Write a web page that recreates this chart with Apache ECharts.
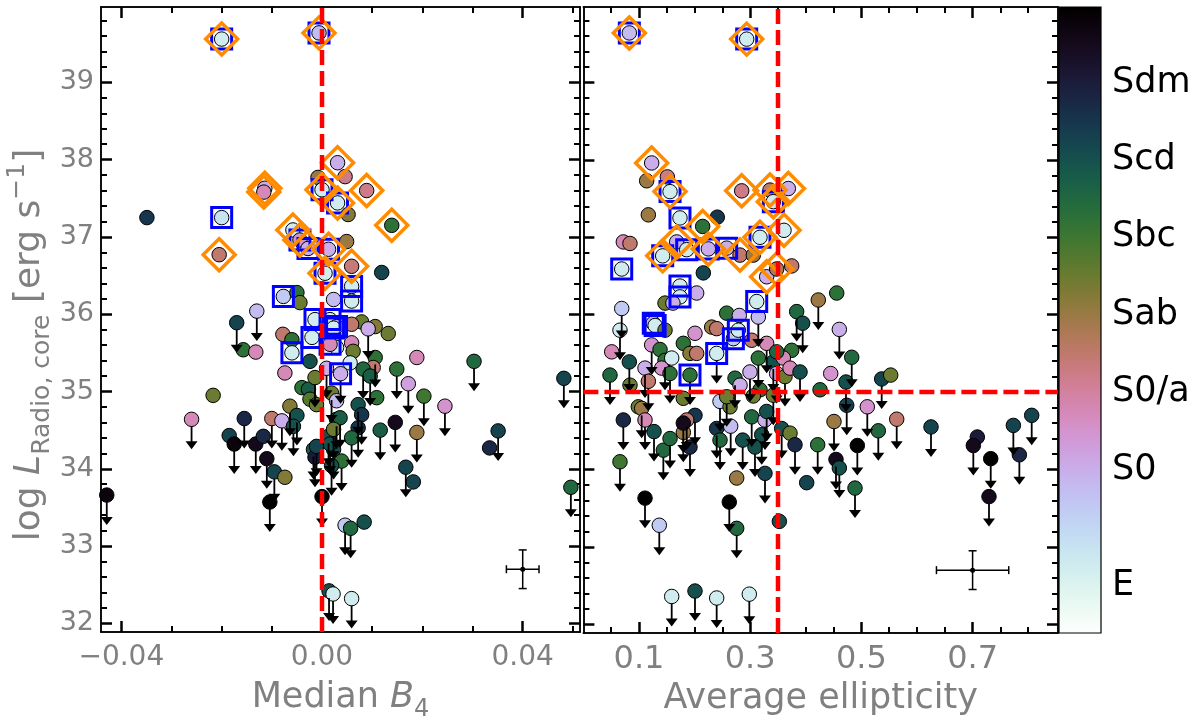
<!DOCTYPE html>
<html><head><meta charset="utf-8">
<script src="https://cdn.jsdelivr.net/npm/echarts@6/dist/echarts.min.js"></script>
<style>html,body{margin:0;padding:0;background:#fff}#c{width:1200px;height:727px}</style>
</head><body><div id="c"></div>
<script>
// ---------- Left panel: Median B4 ----------
const b4X = [
-0.0200,-0.0006,0.0031,-0.0114,-0.0116,-0.0349,-0.0200,-0.0205,0.0046,-0.0008,
0.0000,0.0031,0.0089,0.0052,0.0139,-0.0058,-0.0044,0.0049,0.0013,0.0059,
0.0119,0.0006,0.0059,0.0059,-0.0077,-0.0050,-0.0044,0.0023,-0.0130,-0.0014,
0.0016,-0.0020,0.0029,0.0079,0.0106,0.0132,0.0092,-0.0078,-0.0060,0.0023,
0.0059,0.0059,0.0029,0.0062,0.0106,0.0102,0.0082,0.0096,0.0109,0.0149,
0.0189,0.0172,0.0203,0.0245,0.0303,0.0482,0.0116,0.0146,0.0189,0.0351,
0.0334,0.0167,0.0182,0.0496,0.0072,0.0079,0.0072,0.0059,0.0039,0.0023,
0.0029,0.0046,0.0057,0.0084,0.0059,0.0014,0.0022,-0.0170,-0.0157,-0.0132,
-0.0060,-0.0074,-0.0024,-0.0040,-0.0027,-0.0024,-0.0011,-0.0217,-0.0260,-0.0155,
-0.0185,-0.0175,-0.0132,-0.0117,-0.0100,-0.0080,-0.0064,-0.0050,-0.0057,-0.0110,
-0.0095,-0.0074,-0.0104,-0.0429,0.0000,-0.0017,-0.0014,0.0019,0.0013,0.0016,
0.0056,0.0009,0.0037,-0.0014,0.0019,0.0029,0.0036,0.0023,0.0016,-0.0011,
-0.0028];
const b4LogL = [
39.56,39.64,37.96,37.63,37.58,37.25,37.25,36.77,37.78,37.77,
37.61,37.44,37.60,37.29,37.15,37.09,36.96,36.94,36.84,36.62,
36.54,36.53,36.36,36.17,36.23,36.28,36.15,36.19,36.04,35.93,
35.93,35.70,35.84,35.90,35.84,35.75,35.81,35.74,35.67,35.82,
35.87,35.63,35.57,35.52,35.44,35.31,35.29,35.20,34.92,35.29,
35.44,35.10,34.94,34.81,35.39,35.17,34.50,34.60,34.47,34.49,
34.27,34.02,33.83,33.76,34.83,34.70,34.53,34.40,34.10,34.25,
34.64,33.27,33.23,33.31,32.32,32.42,32.38,35.89,35.54,35.51,
35.50,35.24,35.39,35.05,35.03,34.90,34.83,34.95,34.64,34.65,
34.43,34.32,34.32,34.42,34.65,34.62,34.81,34.69,34.55,34.13,
33.96,33.89,33.57,33.66,33.64,34.25,34.15,34.04,34.42,35.61,
35.37,35.30,35.23,35.18,34.98,34.88,34.66,34.51,34.32,34.29,
36.85];
const b4Type = [
-4.5,-2.5,-2,-2,-0.5,7,-4,1,0.5,2,
-4.5,-4.5,0.5,2.5,4.5,-4.5,-1,2,-2,0.8,
6.5,-4.5,-4.5,-4.5,-3,4.5,3,-2.5,-2.5,-4.5,
-4.5,-4.5,-2,3,2.5,3,-2,1,4.5,-4.5,
1,-0.5,-4.5,3,4.5,1,5,5.5,4.5,4.5,
-0.5,-1.5,4,-1,5,6.5,5.5,9,2,6.5,
7.5,6.5,6.5,5,6,7,7,5,4.5,6,
6,-3,5,6,-4.5,6,-4.5,6.5,4.5,-0.5,
-4.5,-0.5,6,4.5,5.5,3.5,3,3,-0.5,7.5,
6.5,9.5,9,7.5,1,-2,2.5,6,6,9,
6.5,2.5,10,9.5,10,5.5,8,6,6,-0.5,
-4.5,-2,-2,3,3,-2.5,5.5,3,6,6.5,
-2];
const b4Limit = [
0,0,0,0,0,0,0,0,0,0,
0,0,0,0,0,0,0,0,0,0,
0,0,0,0,0,0,0,0,1,0,
0,0,0,0,0,0,1,0,0,0,
0,0,0,0,1,0,1,1,0,1,
0,1,1,1,1,1,1,1,1,1,
0,1,0,1,1,1,1,1,1,1,
1,1,1,0,1,1,1,1,0,0,
0,0,0,0,0,0,0,0,1,1,
0,1,1,0,1,1,1,1,1,1,
1,0,1,1,1,1,1,1,1,0,
0,1,1,1,1,0,1,1,1,1,
0];
const b4Square = [
1,1,0,0,0,0,1,0,0,0,
1,1,0,0,0,0,1,0,1,0,
0,1,1,1,1,0,0,0,0,1,
1,1,1,0,0,0,0,0,0,1,
0,0,0,0,0,0,0,0,0,0,
0,0,0,0,0,0,0,0,0,0,
0,0,0,0,0,0,0,0,0,0,
0,0,0,0,0,0,0,0,0,0,
1,0,0,0,0,0,0,0,0,0,
0,0,0,0,0,0,0,0,0,0,
0,0,0,0,0,0,0,0,0,1,
0,0,1,0,0,0,0,0,0,0,
1];
const b4Diamond = [
1,1,1,1,1,0,0,1,0,0,
1,1,1,0,1,1,1,0,1,1,
0,1,0,0,0,0,0,0,0,0,
0,0,0,0,0,0,0,0,0,0,
0,0,0,0,0,0,0,0,0,0,
0,0,0,0,0,0,0,0,0,0,
0,0,0,0,0,0,0,0,0,0,
0,0,0,0,0,0,0,0,0,0,
0,0,0,0,0,0,0,0,0,0,
0,0,0,0,0,0,0,0,0,0,
0,0,0,0,0,0,0,0,0,0,
0,0,0,0,0,0,0,0,0,0,
0];

// ---------- Right panel: Average ellipticity ----------
const ellX = [
0.0826,0.2937,0.1228,0.1510,0.1138,0.1558,0.2847,0.3356,0.3416,0.3686,
0.1168,0.1737,0.2408,0.2145,0.3176,0.3608,0.0718,0.0838,0.1678,0.1858,
0.1426,0.2247,0.2577,0.2817,0.3056,0.0689,0.2157,0.3296,0.3476,0.3746,
0.1737,0.1737,0.2037,0.1468,0.1610,0.0689,0.3117,0.4225,0.2577,0.2804,
0.3836,0.1257,0.1290,0.0658,0.1468,0.2007,0.2307,0.2397,0.2697,0.2786,
0.3146,0.3944,0.0509,0.0826,0.0478,0.0838,0.1228,0.1378,0.1468,0.1108,
0.1408,0.1588,0.1168,0.1558,0.0988,0.1048,0.1797,0.1917,0.2037,0.1917,
0.1797,0.2007,0.1858,0.1797,0.1917,0.1797,0.0718,0.1108,0.1270,0.1438,
0.1558,0.0658,0.1108,0.1365,0.2624,0.2757,0.2757,0.3524,0.2457,0.2637,
0.2397,0.2457,0.2649,0.2865,0.3027,0.3207,0.3266,0.3086,0.3266,0.3296,
0.3566,0.3716,0.3806,0.4016,0.4214,0.1588,0.2007,0.2397,0.2984,0.2727,
0.2817,0.2996,0.3146,0.3176,0.3056,0.3416,0.3476,0.3626,0.3746,0.3596,
0.3716,0.3896,0.3416,0.2577,0.2397,0.3027,0.3296,0.3476,0.4256,0.4556,
0.4603,0.4826,0.4448,0.4723,0.4736,0.5106,0.5365,0.5527,0.4507,0.5635,
0.5304,0.4927,0.4543,0.4603,0.4885,0.6252,0.7085,0.7013,0.7326,0.7295,
0.7733,0.7841,0.8063];
const ellLogL = [
39.64,39.56,37.96,37.78,37.73,37.59,37.60,37.61,37.46,37.63,
37.29,37.25,37.26,37.14,37.00,37.09,36.94,36.92,36.94,36.84,
36.76,36.85,36.86,36.77,36.77,36.59,36.54,36.49,36.59,36.63,
36.37,36.23,36.28,36.15,36.15,36.08,36.17,36.19,36.02,35.99,
36.04,35.89,35.86,35.80,35.80,35.76,35.84,35.82,35.69,35.80,
35.97,35.89,35.52,35.39,35.22,35.09,35.61,35.55,35.41,35.31,
35.31,35.44,35.14,35.24,34.81,34.79,35.63,35.50,35.50,35.22,
34.92,34.70,34.64,34.48,34.29,34.60,34.64,34.64,34.49,34.25,
34.40,34.10,33.63,33.28,33.58,33.24,33.89,33.33,34.88,34.81,
34.53,34.38,34.56,34.38,34.68,34.45,34.64,34.29,33.95,34.75,
34.53,34.47,34.32,33.83,34.32,32.36,32.43,32.34,32.39,35.18,
35.09,35.26,35.44,35.03,34.95,35.39,35.24,35.20,35.54,35.44,
35.31,35.26,34.96,34.94,35.50,35.67,35.63,35.52,35.03,36.28,
35.81,35.45,35.24,35.13,34.83,34.81,35.17,35.22,34.62,34.65,
34.50,34.31,34.13,34.02,33.76,34.55,34.42,34.31,34.14,33.65,
34.57,34.19,34.70];
const ellType = [
-2.5,-4.5,-2,0.5,2,-4.5,0.5,1,-4.5,-2,
2,-4.5,7,4.5,-4.5,-4.5,-0.5,1,-2,-4.5,
-4.5,-2,-2,1,2,-4.5,6.5,-2,1.5,1,
-4.5,-4.5,-2,3,-2,-3,-4.5,2,4.5,-2,
5,-2,-4.5,-4.5,3,-1,2,1,-3,-4.5,
-2.5,6,-0.5,6,5,3,-1,4.5,4.5,-2,
-1,-4.5,1,4.5,3,2,4.5,2.5,1,4.5,
3,7,1,2,7.5,9,7.5,-0.5,6,5,
5,4,10,-3,10,5,2,6,-3,3,
7,5,-2.5,6,5,6,-2,6,6.5,6,
6,3,7.5,6.5,4.5,-4.5,6,-4.5,-4.5,5,
-2,-2,4.5,4.5,3,6,-2,3,4.5,-0.5,
-0.5,6,3,3,-4.5,1,-0.5,5,5,4.5,
-2,5,-1,6,6.5,-1,6.5,3,2,1,
5,10,9,6,5,6.5,8,9,10,9,
6.5,7.5,6.5];
const ellLimit = [
0,0,0,0,0,0,0,0,0,0,
0,0,0,0,0,0,0,0,0,0,
0,0,0,0,0,0,0,0,0,0,
0,0,0,0,0,1,0,1,0,0,
1,0,0,1,0,0,0,0,0,0,
1,1,0,1,1,0,1,0,1,1,
0,0,1,1,0,1,0,0,0,1,
0,1,1,1,1,1,1,1,1,1,
1,1,1,1,1,1,0,0,1,0,
1,1,1,1,1,1,1,1,1,1,
1,0,1,0,1,1,1,1,1,1,
0,1,1,0,0,1,1,1,0,0,
0,1,1,1,1,0,1,0,0,0,
1,1,0,1,1,1,1,0,1,1,
1,1,1,1,1,1,0,1,1,1,
1,1,1];
const ellSquare = [
1,1,0,0,0,1,0,0,1,0,
0,1,0,0,1,0,0,0,0,1,
1,1,1,0,0,1,0,0,0,0,
1,1,0,0,0,0,1,0,0,0,
0,1,1,0,0,0,0,0,1,1,
0,0,0,0,0,0,0,0,0,0,
0,0,0,0,0,0,0,0,0,1,
0,0,0,0,0,0,0,0,0,0,
0,0,0,0,0,0,0,0,0,0,
0,0,0,0,0,0,0,0,0,0,
0,0,0,0,0,0,0,0,0,0,
0,0,0,0,0,0,0,0,0,0,
0,0,0,0,1,0,0,0,0,0,
0,0,0,0,0,0,0,0,0,0,
0,0,0,0,0,0,0,0,0,0,
0,0,0];
const ellDiamond = [
1,1,1,0,0,1,1,1,1,1,
0,0,0,1,1,1,0,0,1,0,
1,1,0,1,0,0,0,1,1,0,
0,0,0,0,0,0,0,0,0,0,
0,0,0,0,0,0,0,0,0,0,
0,0,0,0,0,0,0,0,0,0,
0,0,0,0,0,0,0,0,0,0,
0,0,0,0,0,0,0,0,0,0,
0,0,0,0,0,0,0,0,0,0,
0,0,0,0,0,0,0,0,0,0,
0,0,0,0,0,0,0,0,0,0,
0,0,0,0,0,0,0,0,0,0,
0,0,0,0,0,0,0,0,0,0,
0,0,0,0,0,0,0,0,0,0,
0,0,0,0,0,0,0,0,0,0,
0,0,0];

// typical error bars [x, y, xerr, yerr]
const b4ErrSample = [[0.040, 32.70, 0.00325, 0.25]];
const ellErrSample = [[0.700, 32.70, 0.065, 0.25]];
// thresholds
const b4Cut = 0.0, ellCut = 0.35, lumCut = 35.0;

// ticks and tick labels
const yTicks = [32,33,34,35,36,37,38,39];
const b4Ticks = [-0.04, 0.00, 0.04];
const b4TickLabels = ['\u22120.04','0.00','0.04'];
const b4Minor = [-0.03,-0.02,-0.01,0.01,0.02,0.03,0.05];
const ellTicks = [0.1,0.3,0.5,0.7];
const ellTickLabels = ['0.1','0.3','0.5','0.7'];
const ellMinor = [0.05,0.15,0.2,0.25,0.35,0.4,0.45,0.55,0.6,0.65,0.75,0.8];
const typeTicks = [-5,-2,0,2,4,6,8];
const typeNames = ['E','S0','S0/a','Sab','Sbc','Scd','Sdm'];

// ranges
const Y_MIN = 31.888, Y_MAX = 39.975;
const B4_MIN = -0.04405, B4_MAX = 0.05142;
const E_MIN = 0.0, E_MAX = 0.8536;
const T_MIN = -6.22, T_MAX = 9.95;

const yMinor = [];
for (let k = 0; k <= 45; k++) { const v = Math.round((31.8 + 0.2 * k) * 10) / 10; if (v > Y_MIN && v < Y_MAX && Math.abs(v - Math.round(v)) > 1e-6) yMinor.push(v); }

const GRAY = '#808080', FONT = 'DejaVu Sans';

// matplotlib cubehelix colormap (reversed use below)
function helix(x) {
  const s = 0.5, r = -1.5, h = 1.0;
  const a = h * x * (1 - x) / 2, phi = 2 * Math.PI * (s / 3 + r * x);
  const c = Math.cos(phi), sn = Math.sin(phi);
  const cl = v => Math.round(Math.max(0, Math.min(1, v)) * 255);
  const R = x + a * (-0.14861 * c + 1.78277 * sn);
  const G = x + a * (-0.29227 * c - 0.90649 * sn);
  const B = x + a * (1.97294 * c);
  return 'rgb(' + cl(R) + ',' + cl(G) + ',' + cl(B) + ')';
}
function typeColor(t) {
  const f = (Math.min(Math.max(t, T_MIN), T_MAX) - T_MIN) / (T_MAX - T_MIN);
  return helix(1 - f);
}

function axisCommon(grid, min, max, pos, vals, major, labelCfg) {
  return {
    type: 'value', gridIndex: grid, min: min, max: max, position: pos,
    axisLine: { show: true, onZero: false, lineStyle: { color: '#000', width: 1.5 } },
    axisTick: { show: true, inside: true, length: major ? 11 : 6, lineStyle: { color: '#000', width: major ? 2.5 : 2 }, customValues: vals },
    axisLabel: labelCfg ? Object.assign({ show: true, customValues: vals }, labelCfg) : { show: false },
    splitLine: { show: false }, minorTick: { show: false }, axisPointer: { show: false }
  };
}

const nameRich = {
  n: { fontSize: 35, fontFamily: FONT, color: GRAY, lineHeight: 48 },
  it: { fontSize: 35, fontFamily: FONT, color: GRAY, lineHeight: 48, fontStyle: 'italic' },
  sub: { fontSize: 24, fontFamily: FONT, color: GRAY, lineHeight: 26, verticalAlign: 'bottom' },
  sup: { fontSize: 24, fontFamily: FONT, color: GRAY, lineHeight: 26, verticalAlign: 'top' }
};
const yTitleRich = {
  n: { fontSize: 36, fontFamily: FONT, fill: GRAY, lineHeight: 50 },
  it: { fontSize: 36, fontFamily: FONT, fill: GRAY, lineHeight: 50, fontStyle: 'italic' },
  sub: { fontSize: 25, fontFamily: FONT, fill: GRAY, lineHeight: 27, verticalAlign: 'bottom' },
  sup: { fontSize: 25, fontFamily: FONT, fill: GRAY, lineHeight: 27, verticalAlign: 'top' }
};

const xAxes = [
  Object.assign(axisCommon(0, B4_MIN, B4_MAX, 'bottom', b4Ticks, true, {
    color: GRAY, fontSize: 28, fontFamily: FONT, margin: 12,
    formatter: v => b4TickLabels[b4Ticks.findIndex(t => Math.abs(t - v) < 1e-9)] }),
    { name: '{n|Median }{it|B}{sub|4}', nameLocation: 'middle', nameGap: 42, nameTextStyle: { rich: nameRich } }),
  axisCommon(0, B4_MIN, B4_MAX, 'bottom', b4Minor, false),
  axisCommon(0, B4_MIN, B4_MAX, 'top', b4Ticks, true),
  axisCommon(0, B4_MIN, B4_MAX, 'top', b4Minor, false),
  Object.assign(axisCommon(1, E_MIN, E_MAX, 'bottom', ellTicks, true, {
    color: GRAY, fontSize: 32, fontFamily: FONT, margin: 11,
    formatter: v => ellTickLabels[ellTicks.findIndex(t => Math.abs(t - v) < 1e-9)] }),
    { name: '{n|Average ellipticity}', nameLocation: 'middle', nameGap: 42, nameTextStyle: { rich: nameRich } }),
  axisCommon(1, E_MIN, E_MAX, 'bottom', ellMinor, false),
  axisCommon(1, E_MIN, E_MAX, 'top', ellTicks, true),
  axisCommon(1, E_MIN, E_MAX, 'top', ellMinor, false),
  { type: 'value', gridIndex: 2, min: 0, max: 1, show: false }
];
const yAxes = [
  axisCommon(0, Y_MIN, Y_MAX, 'left', yTicks, true, {
    color: GRAY, fontSize: 27, fontFamily: FONT, margin: 7, formatter: v => String(Math.round(v)) }),
  axisCommon(0, Y_MIN, Y_MAX, 'left', yMinor, false),
  axisCommon(0, Y_MIN, Y_MAX, 'right', yTicks, true),
  axisCommon(0, Y_MIN, Y_MAX, 'right', yMinor, false),
  axisCommon(1, Y_MIN, Y_MAX, 'left', yTicks, true),
  axisCommon(1, Y_MIN, Y_MAX, 'left', yMinor, false),
  axisCommon(1, Y_MIN, Y_MAX, 'right', yTicks, true),
  axisCommon(1, Y_MIN, Y_MAX, 'right', yMinor, false),
  {
    type: 'value', gridIndex: 2, min: T_MIN, max: T_MAX, position: 'right',
    axisLine: { show: false },
    axisTick: { show: true, inside: false, length: 8, lineStyle: { color: '#000', width: 1.5 }, customValues: typeTicks },
    axisLabel: { show: true, customValues: typeTicks, color: '#000', fontSize: 35, fontFamily: FONT, margin: 11,
      formatter: v => typeNames[typeTicks.findIndex(t => Math.abs(t - v) < 1e-9)] },
    splitLine: { show: false }
  }
];

function circles(X, Y, T) {
  return X.map((x, i) => ({ value: [x, Y[i]], itemStyle: { color: typeColor(T[i]) } }));
}
function pick(X, Y, F) {
  const out = [];
  X.forEach((x, i) => { if (F[i]) out.push([x, Y[i]]); });
  return out;
}
function arrowRender(params, api) {
  const p = api.coord([api.value(0), api.value(1)]);
  const x = p[0], y0 = p[1] + 7, tip = p[1] + 30, hw = 6, hh = 8;
  return { type: 'group', children: [
    { type: 'line', shape: { x1: x, y1: y0, x2: x, y2: tip - hh + 1 }, style: { stroke: '#000', lineWidth: 1.8 } },
    { type: 'polygon', shape: { points: [[x - hw, tip - hh], [x + hw, tip - hh], [x, tip]] }, style: { fill: '#000' } }
  ] };
}
function errRender(params, api) {
  const x = api.value(0), y = api.value(1), ex = api.value(2), ey = api.value(3);
  const c = api.coord([x, y]), l = api.coord([x - ex, y]), r = api.coord([x + ex, y]);
  const t = api.coord([x, y + ey]), b = api.coord([x, y - ey]);
  const st = { stroke: '#000', lineWidth: 1.5 }, cap = 4;
  return { type: 'group', children: [
    { type: 'line', shape: { x1: l[0], y1: c[1], x2: r[0], y2: c[1] }, style: st },
    { type: 'line', shape: { x1: c[0], y1: t[1], x2: c[0], y2: b[1] }, style: st },
    { type: 'line', shape: { x1: l[0], y1: c[1] - cap, x2: l[0], y2: c[1] + cap }, style: st },
    { type: 'line', shape: { x1: r[0], y1: c[1] - cap, x2: r[0], y2: c[1] + cap }, style: st },
    { type: 'line', shape: { x1: c[0] - cap, y1: t[1], x2: c[0] + cap, y2: t[1] }, style: st },
    { type: 'line', shape: { x1: c[0] - cap, y1: b[1], x2: c[0] + cap, y2: b[1] }, style: st },
    { type: 'circle', shape: { cx: c[0], cy: c[1], r: 2.5 }, style: { fill: '#000' } }
  ] };
}
function colorbarRender(params, api) {
  const p1 = api.coord([0, T_MAX]), p2 = api.coord([1, T_MIN]);
  const stops = [];
  for (let i = 0; i <= 60; i++) stops.push({ offset: i / 60, color: helix(i / 60) });
  return { type: 'rect', shape: { x: p1[0], y: p1[1], width: p2[0] - p1[0], height: p2[1] - p1[1] },
    style: { fill: new echarts.graphic.LinearGradient(0, 0, 0, 1, stops), stroke: '#000', lineWidth: 1.2 } };
}

function panelSeries(xi, yi, X, Y, T, UL, SQ, DI, errSample) {
  return [
    { type: 'scatter', xAxisIndex: xi, yAxisIndex: yi, z: 2, silent: true, symbol: 'circle', symbolSize: 14.5,
      itemStyle: { borderColor: '#000', borderWidth: 1, opacity: 1 }, data: circles(X, Y, T) },
    { type: 'custom', xAxisIndex: xi, yAxisIndex: yi, z: 3, silent: true, renderItem: arrowRender,
      encode: { x: 0, y: 1 }, data: pick(X, Y, UL) },
    { type: 'custom', xAxisIndex: xi, yAxisIndex: yi, z: 3, silent: true, renderItem: errRender,
      encode: { x: 0, y: 1 }, data: errSample },
    { type: 'scatter', xAxisIndex: xi, yAxisIndex: yi, z: 4, silent: true, symbol: 'rect', symbolSize: 20,
      itemStyle: { color: 'rgba(0,0,0,0)', borderColor: '#0000ff', borderWidth: 3, opacity: 1 }, data: pick(X, Y, SQ) },
    { type: 'scatter', xAxisIndex: xi, yAxisIndex: yi, z: 5, silent: true, symbol: 'diamond', symbolSize: 32,
      itemStyle: { color: 'rgba(0,0,0,0)', borderColor: '#ff8c00', borderWidth: 3.5, opacity: 1 }, data: pick(X, Y, DI) }
  ];
}
const redLine = { color: '#ff0000', width: 4.5, type: [15, 6] };

const option = {
  animation: false,
  backgroundColor: '#fff',
  grid: [
    { left: 101, top: 7, width: 479, height: 626 },
    { left: 583.4, top: 7, width: 474.6, height: 626 },
    { left: 1059, top: 7, width: 42, height: 626 }
  ],
  graphic: [{
    type: 'text', x: 30, y: 345, rotation: Math.PI / 2, silent: true,
    style: { text: '{n|log }{it|L}{sub|Radio, core}{n| [erg s}{sup|\u22121}{n|]}', rich: yTitleRich,
      align: 'center', verticalAlign: 'middle', fill: GRAY, fontSize: 36, fontFamily: FONT }
  }],
  xAxis: xAxes,
  yAxis: yAxes,
  series: [].concat(
    panelSeries(0, 0, b4X, b4LogL, b4Type, b4Limit, b4Square, b4Diamond, b4ErrSample),
    panelSeries(4, 4, ellX, ellLogL, ellType, ellLimit, ellSquare, ellDiamond, ellErrSample),
    [
      { type: 'line', xAxisIndex: 0, yAxisIndex: 0, z: 8, silent: true, symbol: 'none', lineStyle: redLine,
        data: [[b4Cut, Y_MIN], [b4Cut, Y_MAX]] },
      { type: 'line', xAxisIndex: 4, yAxisIndex: 4, z: 8, silent: true, symbol: 'none', lineStyle: redLine,
        data: [[ellCut, Y_MIN], [ellCut, Y_MAX]] },
      { type: 'line', xAxisIndex: 4, yAxisIndex: 4, z: 8, silent: true, symbol: 'none', lineStyle: redLine,
        data: [[E_MIN, lumCut], [E_MAX, lumCut]] },
      { type: 'custom', xAxisIndex: 8, yAxisIndex: 8, silent: true, renderItem: colorbarRender,
        encode: { x: 0, y: 1 }, data: [[0, T_MIN]] }
    ]
  )
};
const chart = echarts.init(document.getElementById('c'), null, { renderer: 'canvas' });
chart.setOption(option);
</script></body></html>
